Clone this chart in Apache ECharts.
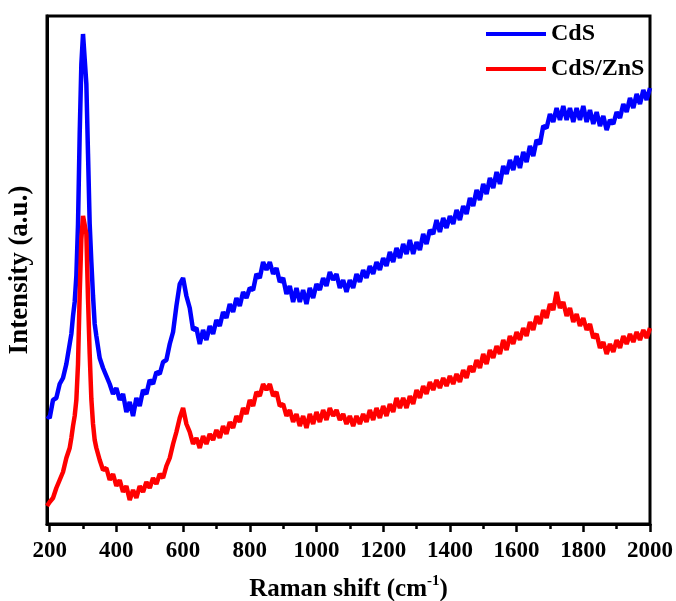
<!DOCTYPE html>
<html>
<head>
<meta charset="utf-8">
<script src="https://cdn.jsdelivr.net/npm/echarts@6/dist/echarts.min.js"></script>
<style>html,body{margin:0;padding:0;background:#fff}#c{width:676px;height:601px}</style>
</head>
<body>
<div id="c"></div>
<script>
// Raman shift (cm-1)
var shift = [
  192, 200, 210, 220, 230, 240, 250, 260,
  265, 270, 275, 280, 285, 290, 295, 300, 305, 310, 315, 320, 325, 330, 335, 340,
  350, 360, 370, 380, 390,
  400, 410, 420, 430, 440, 450, 460, 470, 480, 490,
  500, 510, 520, 530, 540, 550, 560, 570, 580, 590,
  600, 610, 620, 630, 640, 650, 660, 670, 680, 690,
  700, 710, 720, 730, 740, 750, 760, 770, 780, 790,
  800, 810, 820, 830, 840, 850, 860, 870, 880, 890,
  900, 910, 920, 930, 940, 950, 960, 970, 980, 990,
  1000, 1010, 1020, 1030, 1040, 1050, 1060, 1070, 1080, 1090,
  1100, 1110, 1120, 1130, 1140, 1150, 1160, 1170, 1180, 1190,
  1200, 1210, 1220, 1230, 1240, 1250, 1260, 1270, 1280, 1290,
  1300, 1310, 1320, 1330, 1340, 1350, 1360, 1370, 1380, 1390,
  1400, 1410, 1420, 1430, 1440, 1450, 1460, 1470, 1480, 1490,
  1500, 1510, 1520, 1530, 1540, 1550, 1560, 1570, 1580, 1590,
  1600, 1610, 1620, 1630, 1640, 1650, 1660, 1670, 1680, 1690,
  1700, 1710, 1720, 1730, 1740, 1750, 1760, 1770, 1780, 1790,
  1800, 1810, 1820, 1830, 1840, 1850, 1860, 1870, 1880, 1890,
  1900, 1910, 1920, 1930, 1940, 1950, 1960, 1970, 1980, 1990,
  2000
];
// Intensity (a.u.), CdS
var cds = [
  108, 106, 124, 126, 140, 146, 160, 180,
  190, 208, 222, 248, 300, 390, 460, 490, 488, 440, 370, 300, 262, 228, 200, 188,
  166, 156, 148, 140, 130,
  136, 124, 130, 112, 122, 108, 126, 118, 134, 130,
  144, 140, 152, 150, 162, 164, 180, 192, 218, 240,
  246, 228, 216, 194, 196, 180, 194, 184, 198, 190,
  204, 198, 212, 206, 220, 212, 226, 218, 232, 226,
  236, 234, 250, 246, 262, 254, 262, 250, 256, 242,
  246, 230, 238, 222, 236, 222, 234, 220, 236, 226,
  240, 234, 246, 238, 252, 244, 250, 236, 244, 232,
  244, 236, 250, 242, 254, 246, 258, 250, 262, 254,
  266, 258, 272, 262, 276, 266, 280, 270, 284, 270,
  282, 274, 290, 280, 294, 290, 304, 292, 306, 296,
  308, 300, 314, 304, 318, 310, 326, 318, 334, 324,
  340, 330, 346, 336, 352, 340, 358, 350, 364, 354,
  368, 356, 372, 362, 378, 368, 384, 380, 398, 396,
  410, 402, 416, 404, 418, 404, 416, 402, 416, 404,
  418, 402, 414, 400, 412, 398, 408, 394, 404, 400,
  412, 406, 420, 412, 426, 416, 430, 420, 434, 424,
  436
];
// Intensity (a.u.), CdS/ZnS
var cdsZns = [
  18, 22, 26, 36, 44, 52, 66, 76,
  86, 98, 108, 124, 160, 230, 285, 308, 310, 290, 225, 170, 125, 100, 84, 76,
  64, 54, 56, 44, 50,
  38, 44, 32, 38, 24, 34, 26, 38, 32, 42,
  36, 46, 40, 50, 46, 58, 66, 80, 92, 106,
  116, 100, 92, 80, 86, 76, 88, 80, 90, 84,
  94, 86, 98, 90, 102, 96, 108, 102, 116, 110,
  124, 118, 132, 128, 140, 134, 140, 128, 132, 118,
  120, 108, 114, 102, 110, 98, 108, 96, 110, 100,
  112, 102, 114, 104, 116, 108, 114, 104, 110, 100,
  108, 98, 108, 100, 110, 102, 114, 104, 116, 106,
  118, 108, 120, 112, 126, 116, 126, 116, 128, 120,
  134, 126, 138, 130, 142, 134, 144, 136, 146, 138,
  148, 140, 150, 142, 154, 146, 158, 152, 164, 156,
  170, 160, 174, 166, 178, 170, 184, 174, 188, 180,
  192, 184, 196, 188, 202, 194, 208, 200, 214, 206,
  220, 214, 232, 216, 222, 208, 216, 202, 210, 198,
  206, 194, 200, 186, 190, 176, 182, 170, 180, 172,
  184, 176, 188, 180, 190, 182, 192, 184, 194, 186,
  196
];
var majorTicks = [200, 400, 600, 800, 1000, 1200, 1400, 1600, 1800, 2000];
var minorTicks = [300, 500, 700, 900, 1100, 1300, 1500, 1700, 1900];
var seriesNames = ['CdS', 'CdS/ZnS'];

var FONT = '"Liberation Serif", "Times New Roman", serif';
var chart = echarts.init(document.getElementById('c'), null, {renderer: 'canvas'});
function pairs(v) { return shift.map(function (x, i) { return [x, v[i]]; }); }

chart.setOption({
  animation: false,
  backgroundColor: '#fff',
  grid: {left: 47, right: 26, top: 16, bottom: 77, show: true, borderColor: '#000', borderWidth: 3,
    backgroundColor: 'transparent', containLabel: false, outerBoundsMode: 'none'},
  legend: {
    orient: 'vertical', left: 486, top: 22, itemGap: 11, padding: 0,
    itemWidth: 60, itemHeight: 4, icon: 'rect',
    textStyle: {fontFamily: FONT, fontWeight: 'bold', fontSize: 24, color: '#000', lineHeight: 24},
    data: seriesNames
  },
  xAxis: [{
    type: 'value', min: 192, max: 2000,
    name: '{a|Raman shift (cm}{b|-1}{a|)}', nameLocation: 'middle', nameGap: 50,
    nameTextStyle: {rich: {
      a: {fontFamily: FONT, fontWeight: 'bold', fontSize: 25, color: '#000', verticalAlign: 'bottom', lineHeight: 28},
      b: {fontFamily: FONT, fontWeight: 'bold', fontSize: 15, color: '#000', verticalAlign: 'top', lineHeight: 28, padding: [0, 0, 10, 0]}
    }},
    axisLine: {show: true, lineStyle: {color: '#000', width: 3}},
    axisTick: {show: true, length: 8, lineStyle: {color: '#000', width: 2.5}, customValues: majorTicks},
    axisLabel: {fontFamily: FONT, fontWeight: 'bold', fontSize: 23, color: '#000', margin: 16, customValues: majorTicks,
      formatter: function (v) { return String(v); }},
    splitLine: {show: false}
  }, {
    type: 'value', min: 192, max: 2000, position: 'bottom',
    axisLine: {show: false},
    axisTick: {show: true, length: 5, lineStyle: {color: '#000', width: 2.5}, customValues: minorTicks},
    axisLabel: {show: false},
    splitLine: {show: false}
  }],
  yAxis: {
    type: 'value', min: 0, max: 508,
    name: 'Intensity (a.u.)', nameLocation: 'middle', nameGap: 13,
    nameTextStyle: {fontFamily: FONT, fontWeight: 'bold', fontSize: 27, color: '#000'},
    axisLine: {show: true, lineStyle: {color: '#000', width: 3}},
    axisTick: {show: false}, axisLabel: {show: false}, splitLine: {show: false}
  },
  series: [
    {name: seriesNames[0], type: 'line', data: pairs(cds), symbol: 'none', lineStyle: {color: '#0000ff', width: 4.5}, itemStyle: {color: '#0000ff'}},
    {name: seriesNames[1], type: 'line', data: pairs(cdsZns), symbol: 'none', lineStyle: {color: '#ff0000', width: 4.5}, itemStyle: {color: '#ff0000'}}
  ]
});
</script>
</body>
</html>
